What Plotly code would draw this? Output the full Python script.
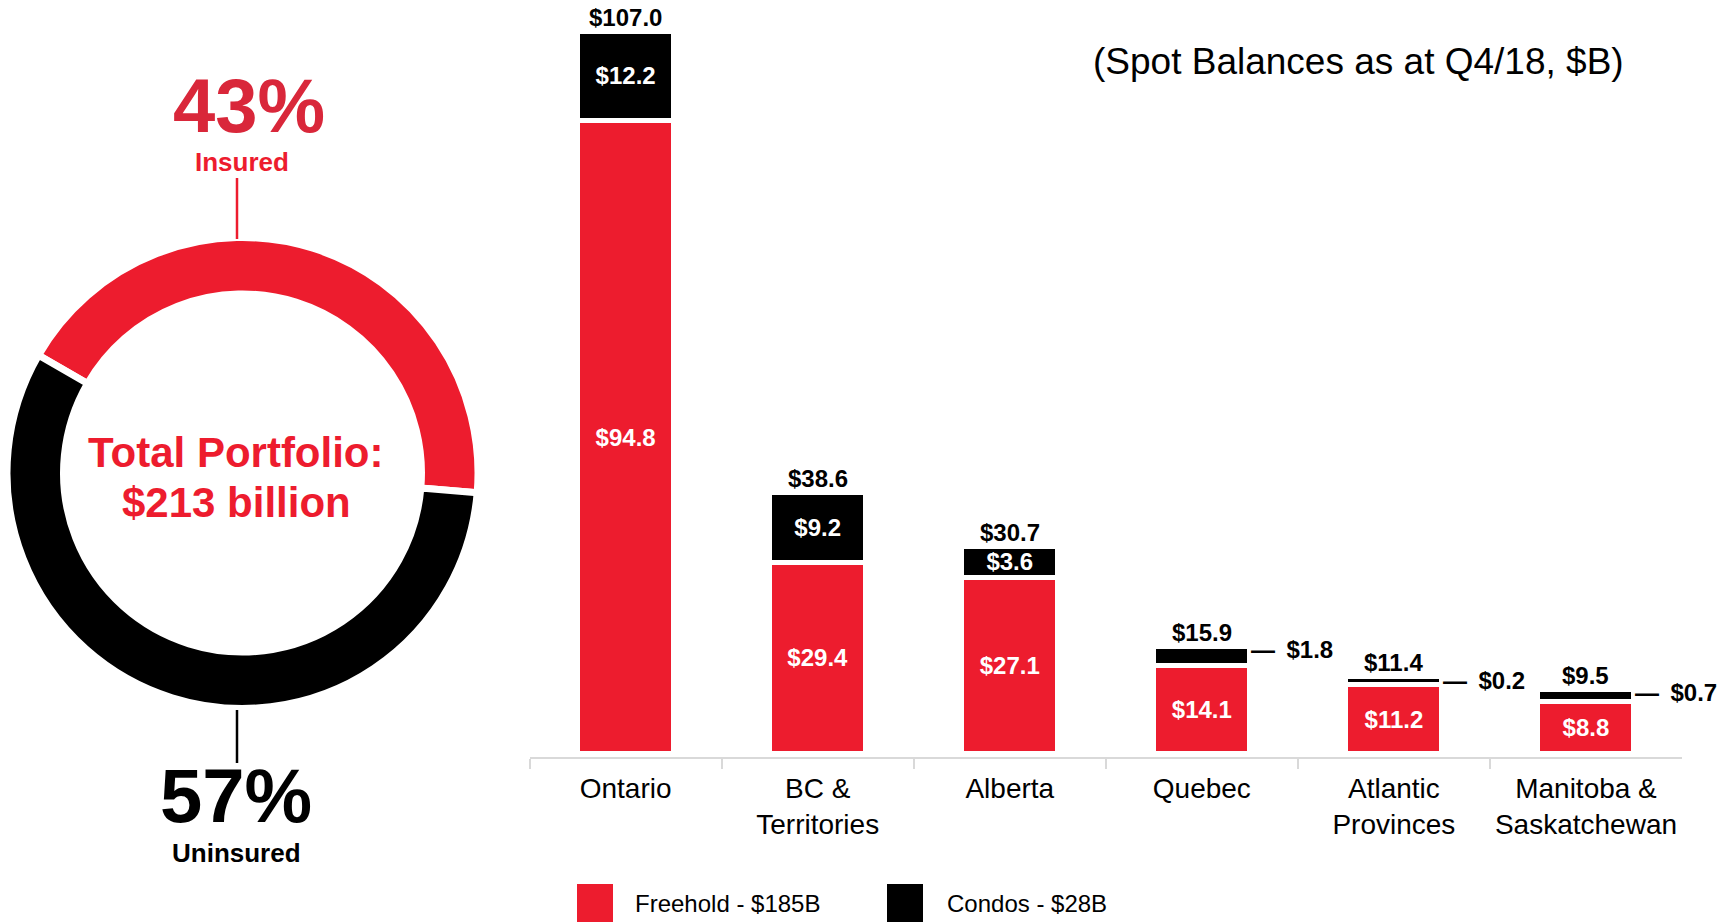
import plotly.graph_objects as go

# datos (saldos spot Q4/18, $B)
regions = ["Ontario", "BC &<br>Territories", "Alberta", "Quebec",
           "Atlantic<br>Provinces", "Manitoba &<br>Saskatchewan"]
freehold = [94.8, 29.4, 27.1, 14.1, 11.2, 8.8]
condos = [12.2, 9.2, 3.6, 1.8, 0.2, 0.7]
condo_inside = [True, True, True, False, False, False]   # etiqueta dentro de la barra o al lado

portfolio_labels = ["Insured", "Uninsured"]
portfolio_share = [43, 57]
portfolio_total = 213
legend_names = ["Freehold - $185B", "Condos - $28B"]

RED = "#ed1c2e"
RED_DARK = "#d9273a"
BLACK = "#000000"
AXIS = "#d9d9d9"
FONT = "Liberation Sans, Arial, sans-serif"

W, H = 1733, 922


def px(x):
    return x / W


def py(y):
    return 1 - y / H


totals = [round(f + c, 1) for f, c in zip(freehold, condos)]

fig = go.Figure()

# donut: asegurado / no asegurado
fig.add_trace(go.Pie(
    values=portfolio_share, labels=portfolio_labels, sort=False,
    direction="clockwise", rotation=300, hole=0.76,
    marker=dict(colors=[RED, BLACK], line=dict(color="white", width=7)),
    textinfo="none", hoverinfo="label+percent", showlegend=False,
    domain=dict(x=[px(7), px(478)], y=[py(710), py(236)]),
))

# barras apiladas: el trazo blanco de freehold abre el hueco con el tramo condo
fig.add_trace(go.Bar(
    x=regions, y=freehold, name=legend_names[0], width=0.536,
    marker=dict(color=RED, line=dict(color="white", width=12)),
    text=[f"${v:.1f}" for v in freehold], textposition="inside",
    insidetextanchor="middle", textangle=0, constraintext="none",
    textfont=dict(color="white", size=24, family=FONT, weight="bold"),
    hovertemplate="%{y:.1f}<extra>Freehold</extra>", showlegend=False,
))
fig.add_trace(go.Bar(
    x=regions, y=condos, name=legend_names[1], width=0.4635,
    marker=dict(color=BLACK, line=dict(color=BLACK, width=2)),
    text=[f"${v:.1f}" for v in condos],
    textposition=["inside" if k else "none" for k in condo_inside],
    insidetextanchor="middle", textangle=0, constraintext="none",
    textfont=dict(color="white", size=24, family=FONT, weight="bold"),
    hovertemplate="%{y:.1f}<extra>Condos</extra>", showlegend=False,
))

annotations = []
for i, t in enumerate(totals):
    annotations.append(dict(
        x=regions[i], y=t, xref="x", yref="y", text=f"<b>${t:.1f}</b>",
        yanchor="bottom", yshift=2, font=dict(size=24, color=BLACK, family=FONT),
    ))
    if not condo_inside[i]:
        annotations.append(dict(
            x=regions[i], y=t, xref="x", yref="y",
            text=f"<b>— \u2009${condos[i]:.1f}</b>",
            xanchor="left", xshift=47, font=dict(size=24, color=BLACK, family=FONT),
        ))

# textos del donut, subtítulo y leyenda
annotations += [
    dict(x=px(249), y=py(106), text=f"<b>{portfolio_share[0]}%</b>",
         font=dict(size=76, color=RED_DARK, family=FONT)),
    dict(x=px(242), y=py(162), text=f"<b>{portfolio_labels[0]}</b>",
         font=dict(size=26, color=RED, family=FONT)),
    dict(x=px(236), y=py(453), text="<b>Total Portfolio:</b>",
         font=dict(size=42, color=RED, family=FONT)),
    dict(x=px(236), y=py(503), text=f"<b>${portfolio_total} billion</b>",
         font=dict(size=42, color=RED, family=FONT)),
    dict(x=px(236), y=py(795), text=f"<b>{portfolio_share[1]}%</b>",
         font=dict(size=76, color=BLACK, family=FONT)),
    dict(x=px(236), y=py(853), text=f"<b>{portfolio_labels[1]}</b>",
         font=dict(size=26, color=BLACK, family=FONT)),
    dict(x=px(1358), y=py(61), text="(Spot Balances as at Q4/18, $B)",
         font=dict(size=37, color=BLACK, family=FONT)),
    dict(x=px(633), y=py(903), text=legend_names[0], xanchor="left",
         font=dict(size=24, color=BLACK, family=FONT)),
    dict(x=px(945), y=py(903), text=legend_names[1], xanchor="left",
         font=dict(size=24, color=BLACK, family=FONT)),
]
for a in annotations:
    a.setdefault("xref", "paper")
    a.setdefault("yref", "paper")
    a.setdefault("xanchor", "center")
    a.setdefault("yanchor", "middle")
    a["showarrow"] = False

shapes = [
    # líneas guía del donut
    dict(type="line", xref="paper", yref="paper", x0=px(237), x1=px(237),
         y0=py(178), y1=py(239), line=dict(color=RED, width=2.5)),
    dict(type="line", xref="paper", yref="paper", x0=px(237), x1=px(237),
         y0=py(710), y1=py(763), line=dict(color=BLACK, width=2.5)),
    # cuadros de la leyenda
    dict(type="rect", xref="paper", yref="paper", x0=px(577), x1=px(613),
         y0=py(922), y1=py(884), fillcolor=RED, line=dict(width=0)),
    dict(type="rect", xref="paper", yref="paper", x0=px(887), x1=px(923),
         y0=py(922), y1=py(884), fillcolor=BLACK, line=dict(width=0)),
]

fig.update_layout(
    width=W, height=H, template="none",
    paper_bgcolor="white", plot_bgcolor="white",
    margin=dict(l=0, r=0, t=0, b=0),
    barmode="stack", showlegend=False,
    font=dict(family=FONT, color=BLACK),
    uniformtext=dict(minsize=24, mode="show"),
    annotations=annotations, shapes=shapes,
)
fig.update_xaxes(
    type="category", domain=[px(529.6), px(1682)], range=[-0.5, len(regions) - 0.5],
    tickson="boundaries", ticks="outside", ticklen=10, tickwidth=2, tickcolor=AXIS,
    tickangle=0, ticklabelstandoff=5, showline=True, linecolor=AXIS, linewidth=2,
    showgrid=False, zeroline=False, tickfont=dict(size=28, color=BLACK, family=FONT),
)
fig.update_yaxes(domain=[py(757), 1], range=[0, 757 / 6.75], visible=False)

fig.write_html("out.html", config={"displayModeBar": False},
               post_script="document.body.style.margin = '0';")
